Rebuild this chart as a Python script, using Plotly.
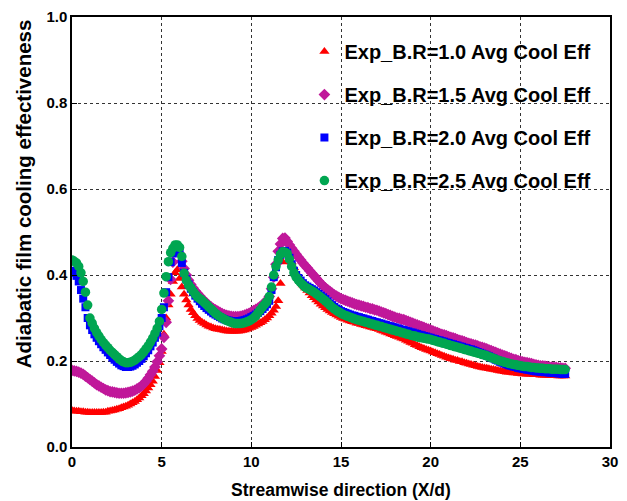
import plotly.graph_objects as go

# Streamwise positions X/d (shared by all series), 0.125 apart, one row per unit of X/d
x_pos = [
    0.0, 0.125, 0.25, 0.375, 0.5, 0.625, 0.75, 0.875,
    1.0, 1.125, 1.25, 1.375, 1.5, 1.625, 1.75, 1.875,
    2.0, 2.125, 2.25, 2.375, 2.5, 2.625, 2.75, 2.875,
    3.0, 3.125, 3.25, 3.375, 3.5, 3.625, 3.75, 3.875,
    4.0, 4.125, 4.25, 4.375, 4.5, 4.625, 4.75, 4.875,
    5.0, 5.125, 5.25, 5.375, 5.5, 5.625, 5.75, 5.875,
    6.0, 6.125, 6.25, 6.375, 6.5, 6.625, 6.75, 6.875,
    7.0, 7.125, 7.25, 7.375, 7.5, 7.625, 7.75, 7.875,
    8.0, 8.125, 8.25, 8.375, 8.5, 8.625, 8.75, 8.875,
    9.0, 9.125, 9.25, 9.375, 9.5, 9.625, 9.75, 9.875,
    10.0, 10.125, 10.25, 10.375, 10.5, 10.625, 10.75, 10.875,
    11.0, 11.125, 11.25, 11.375, 11.5, 11.625, 11.75, 11.875,
    12.0, 12.125, 12.25, 12.375, 12.5, 12.625, 12.75, 12.875,
    13.0, 13.125, 13.25, 13.375, 13.5, 13.625, 13.75, 13.875,
    14.0, 14.125, 14.25, 14.375, 14.5, 14.625, 14.75, 14.875,
    15.0, 15.125, 15.25, 15.375, 15.5, 15.625, 15.75, 15.875,
    16.0, 16.125, 16.25, 16.375, 16.5, 16.625, 16.75, 16.875,
    17.0, 17.125, 17.25, 17.375, 17.5, 17.625, 17.75, 17.875,
    18.0, 18.125, 18.25, 18.375, 18.5, 18.625, 18.75, 18.875,
    19.0, 19.125, 19.25, 19.375, 19.5, 19.625, 19.75, 19.875,
    20.0, 20.125, 20.25, 20.375, 20.5, 20.625, 20.75, 20.875,
    21.0, 21.125, 21.25, 21.375, 21.5, 21.625, 21.75, 21.875,
    22.0, 22.125, 22.25, 22.375, 22.5, 22.625, 22.75, 22.875,
    23.0, 23.125, 23.25, 23.375, 23.5, 23.625, 23.75, 23.875,
    24.0, 24.125, 24.25, 24.375, 24.5, 24.625, 24.75, 24.875,
    25.0, 25.125, 25.25, 25.375, 25.5, 25.625, 25.75, 25.875,
    26.0, 26.125, 26.25, 26.375, 26.5, 26.625, 26.75, 26.875,
    27.0, 27.125, 27.25, 27.375, 27.5,
]

br10 = [
    0.085, 0.084, 0.083, 0.083, 0.082, 0.082, 0.081, 0.081,
    0.080, 0.080, 0.080, 0.080, 0.080, 0.080, 0.081, 0.081,
    0.083, 0.084, 0.085, 0.086, 0.088, 0.089, 0.091, 0.093,
    0.095, 0.097, 0.100, 0.103, 0.106, 0.110, 0.114, 0.119,
    0.124, 0.130, 0.137, 0.145, 0.153, 0.164, 0.178, 0.196,
    0.222, 0.262, 0.300, 0.330, 0.355, 0.385, 0.405, 0.412,
    0.392, 0.372, 0.355, 0.342, 0.330, 0.320, 0.312, 0.305,
    0.299, 0.294, 0.290, 0.287, 0.284, 0.281, 0.279, 0.277,
    0.275, 0.274, 0.273, 0.272, 0.271, 0.270, 0.269, 0.269,
    0.269, 0.269, 0.269, 0.270, 0.271, 0.272, 0.274, 0.276,
    0.278, 0.280, 0.283, 0.286, 0.289, 0.292, 0.296, 0.300,
    0.305, 0.311, 0.318, 0.327, 0.340, 0.380, 0.430, 0.452,
    0.455, 0.445, 0.430, 0.417, 0.405, 0.395, 0.385, 0.377,
    0.370, 0.364, 0.358, 0.352, 0.347, 0.342, 0.337, 0.332,
    0.328, 0.324, 0.320, 0.316, 0.313, 0.310, 0.307, 0.304,
    0.301, 0.299, 0.297, 0.295, 0.293, 0.291, 0.290, 0.288,
    0.287, 0.285, 0.284, 0.282, 0.281, 0.279, 0.278, 0.276,
    0.275, 0.273, 0.271, 0.269, 0.267, 0.265, 0.263, 0.261,
    0.259, 0.257, 0.255, 0.253, 0.251, 0.248, 0.246, 0.243,
    0.241, 0.238, 0.236, 0.233, 0.231, 0.229, 0.227, 0.225,
    0.223, 0.221, 0.219, 0.217, 0.215, 0.213, 0.211, 0.209,
    0.207, 0.205, 0.204, 0.202, 0.201, 0.199, 0.198, 0.196,
    0.195, 0.193, 0.192, 0.190, 0.189, 0.187, 0.186, 0.185,
    0.184, 0.183, 0.182, 0.181, 0.180, 0.179, 0.178, 0.177,
    0.176, 0.175, 0.174, 0.174, 0.173, 0.172, 0.172, 0.171,
    0.171, 0.170, 0.170, 0.169, 0.169, 0.169, 0.168, 0.168,
    0.168, 0.167, 0.167, 0.167, 0.167, 0.166, 0.166, 0.166,
    0.166, 0.165, 0.165, 0.165, 0.165,
]

br15 = [
    0.178, 0.177, 0.176, 0.174, 0.172, 0.169, 0.165, 0.161,
    0.157, 0.153, 0.149, 0.145, 0.142, 0.139, 0.136, 0.133,
    0.131, 0.129, 0.128, 0.127, 0.126, 0.125, 0.125, 0.125,
    0.126, 0.127, 0.128, 0.130, 0.132, 0.135, 0.138, 0.142,
    0.147, 0.153, 0.160, 0.168, 0.176, 0.186, 0.198, 0.212,
    0.228, 0.255, 0.290, 0.340, 0.390, 0.430, 0.455, 0.462,
    0.450, 0.432, 0.415, 0.400, 0.388, 0.378, 0.370, 0.363,
    0.357, 0.351, 0.345, 0.340, 0.335, 0.330, 0.326, 0.322,
    0.319, 0.316, 0.313, 0.310, 0.308, 0.306, 0.305, 0.304,
    0.303, 0.303, 0.303, 0.304, 0.305, 0.307, 0.309, 0.311,
    0.314, 0.317, 0.320, 0.323, 0.327, 0.331, 0.336, 0.342,
    0.350, 0.368, 0.395, 0.425, 0.455, 0.472, 0.485, 0.486,
    0.478, 0.470, 0.462, 0.455, 0.448, 0.441, 0.435, 0.428,
    0.422, 0.416, 0.410, 0.404, 0.398, 0.392, 0.386, 0.380,
    0.375, 0.370, 0.366, 0.362, 0.358, 0.354, 0.351, 0.348,
    0.345, 0.343, 0.341, 0.339, 0.337, 0.335, 0.333, 0.331,
    0.330, 0.328, 0.327, 0.325, 0.324, 0.322, 0.321, 0.319,
    0.318, 0.316, 0.314, 0.312, 0.310, 0.308, 0.306, 0.304,
    0.302, 0.300, 0.299, 0.297, 0.296, 0.294, 0.292, 0.290,
    0.288, 0.286, 0.284, 0.282, 0.280, 0.278, 0.276, 0.274,
    0.272, 0.270, 0.268, 0.266, 0.264, 0.262, 0.261, 0.259,
    0.257, 0.255, 0.254, 0.252, 0.250, 0.248, 0.247, 0.245,
    0.243, 0.241, 0.240, 0.238, 0.237, 0.235, 0.233, 0.232,
    0.230, 0.228, 0.226, 0.224, 0.222, 0.220, 0.218, 0.216,
    0.214, 0.212, 0.210, 0.208, 0.206, 0.204, 0.203, 0.201,
    0.200, 0.198, 0.197, 0.196, 0.195, 0.194, 0.192, 0.191,
    0.190, 0.189, 0.189, 0.188, 0.187, 0.186, 0.186, 0.185,
    0.185, 0.184, 0.184, 0.183, 0.183,
]

br20 = [
    0.410, 0.405, 0.398, 0.385, 0.365, 0.345, 0.325, 0.300,
    0.283, 0.272, 0.262, 0.254, 0.246, 0.239, 0.232, 0.226,
    0.220, 0.214, 0.208, 0.203, 0.198, 0.194, 0.190, 0.188,
    0.186, 0.186, 0.187, 0.189, 0.192, 0.196, 0.200, 0.205,
    0.211, 0.218, 0.225, 0.234, 0.243, 0.254, 0.266, 0.281,
    0.300, 0.325, 0.360, 0.395, 0.430, 0.450, 0.462, 0.463,
    0.455, 0.428, 0.405, 0.390, 0.378, 0.368, 0.360, 0.352,
    0.345, 0.339, 0.333, 0.328, 0.323, 0.319, 0.315, 0.311,
    0.308, 0.305, 0.302, 0.299, 0.297, 0.295, 0.294, 0.293,
    0.292, 0.292, 0.292, 0.293, 0.294, 0.295, 0.297, 0.299,
    0.302, 0.305, 0.308, 0.312, 0.316, 0.321, 0.326, 0.332,
    0.340, 0.365, 0.395, 0.418, 0.435, 0.447, 0.455, 0.456,
    0.452, 0.440, 0.425, 0.410, 0.400, 0.393, 0.387, 0.381,
    0.376, 0.373, 0.370, 0.367, 0.364, 0.360, 0.356, 0.352,
    0.348, 0.344, 0.339, 0.334, 0.330, 0.326, 0.322, 0.319,
    0.316, 0.314, 0.312, 0.310, 0.308, 0.306, 0.305, 0.303,
    0.302, 0.300, 0.299, 0.297, 0.296, 0.294, 0.293, 0.291,
    0.290, 0.288, 0.287, 0.285, 0.284, 0.282, 0.281, 0.279,
    0.278, 0.276, 0.275, 0.273, 0.272, 0.270, 0.269, 0.267,
    0.266, 0.264, 0.263, 0.261, 0.260, 0.258, 0.257, 0.255,
    0.254, 0.252, 0.251, 0.249, 0.248, 0.246, 0.245, 0.243,
    0.242, 0.240, 0.239, 0.237, 0.236, 0.234, 0.233, 0.231,
    0.230, 0.228, 0.227, 0.225, 0.223, 0.221, 0.219, 0.217,
    0.215, 0.213, 0.211, 0.208, 0.206, 0.203, 0.201, 0.198,
    0.196, 0.194, 0.192, 0.190, 0.189, 0.187, 0.186, 0.184,
    0.183, 0.182, 0.181, 0.180, 0.179, 0.178, 0.177, 0.176,
    0.176, 0.175, 0.175, 0.174, 0.174, 0.173, 0.173, 0.172,
    0.172, 0.171, 0.171, 0.170, 0.170,
]

br25 = [
    0.435, 0.432, 0.428, 0.420, 0.405, 0.385, 0.360, 0.330,
    0.300, 0.288, 0.276, 0.266, 0.258, 0.250, 0.243, 0.237,
    0.231, 0.225, 0.220, 0.215, 0.210, 0.205, 0.201, 0.198,
    0.196, 0.196, 0.197, 0.199, 0.202, 0.206, 0.210, 0.215,
    0.221, 0.228, 0.235, 0.244, 0.253, 0.264, 0.276, 0.292,
    0.320, 0.358, 0.396, 0.431, 0.452, 0.462, 0.470, 0.470,
    0.464, 0.443, 0.404, 0.388, 0.377, 0.370, 0.362, 0.355,
    0.349, 0.345, 0.341, 0.336, 0.331, 0.326, 0.321, 0.316,
    0.311, 0.307, 0.303, 0.300, 0.297, 0.294, 0.292, 0.290,
    0.288, 0.287, 0.287, 0.287, 0.288, 0.289, 0.291, 0.293,
    0.296, 0.300, 0.305, 0.312, 0.319, 0.326, 0.332, 0.338,
    0.350, 0.372, 0.400, 0.420, 0.435, 0.448, 0.454, 0.453,
    0.450, 0.437, 0.420, 0.405, 0.395, 0.388, 0.382, 0.377,
    0.372, 0.369, 0.366, 0.363, 0.360, 0.356, 0.352, 0.348,
    0.344, 0.340, 0.335, 0.330, 0.325, 0.321, 0.317, 0.314,
    0.311, 0.308, 0.306, 0.304, 0.302, 0.300, 0.298, 0.296,
    0.295, 0.293, 0.292, 0.290, 0.289, 0.287, 0.286, 0.284,
    0.283, 0.281, 0.280, 0.278, 0.277, 0.275, 0.274, 0.272,
    0.271, 0.269, 0.268, 0.266, 0.265, 0.263, 0.262, 0.260,
    0.259, 0.258, 0.256, 0.255, 0.254, 0.253, 0.252, 0.251,
    0.250, 0.248, 0.247, 0.245, 0.244, 0.242, 0.241, 0.239,
    0.238, 0.236, 0.235, 0.233, 0.232, 0.230, 0.229, 0.227,
    0.226, 0.224, 0.223, 0.221, 0.220, 0.218, 0.217, 0.215,
    0.214, 0.212, 0.210, 0.208, 0.206, 0.204, 0.202, 0.200,
    0.199, 0.197, 0.196, 0.194, 0.193, 0.192, 0.191, 0.190,
    0.189, 0.188, 0.187, 0.187, 0.186, 0.185, 0.185, 0.184,
    0.184, 0.183, 0.183, 0.182, 0.182, 0.182, 0.181, 0.181,
    0.181, 0.181, 0.180, 0.180, 0.180,
]

series_names = ["Exp_B.R=1.0 Avg Cool Eff", "Exp_B.R=1.5 Avg Cool Eff",
                "Exp_B.R=2.0 Avg Cool Eff", "Exp_B.R=2.5 Avg Cool Eff"]
series_values = [br10, br15, br20, br25]
colors = ["#ff0000", "#c0189a", "#0000ff", "#00a651"]
symbols = ["triangle-up", "diamond", "square", "circle"]
sizes = [9, 9, 8, 9.5]

FONT = "Liberation Sans, Arial, sans-serif"

fig = go.Figure()
for name, vals, c, s, sz in zip(series_names, series_values, colors, symbols, sizes):
    fig.add_trace(go.Scatter(
        x=x_pos, y=vals, mode="markers", name=name, legendgroup=name,
        marker=dict(color=c, symbol=s, size=sz, line=dict(width=0)),
    ))

axis_common = dict(
    showline=True, linecolor="black", linewidth=1.5, mirror=True,
    ticks="inside", ticklen=5, tickcolor="black", tickwidth=1,
    showgrid=True, gridcolor="#333333", griddash="dot", gridwidth=1.2,
    zeroline=False,
    tickfont=dict(family=FONT, size=15, color="black", weight="bold"),
)

fig.update_layout(
    width=627, height=501,
    margin=dict(l=72, r=9, t=17, b=54),
    paper_bgcolor="white", plot_bgcolor="white",
    font=dict(family=FONT, color="black"),
    xaxis=dict(range=[0, 30], dtick=5, tick0=0, automargin="left+right",
               title=dict(text="Streamwise direction (X/d)", standoff=15,
                          font=dict(family=FONT, size=17.5, color="black", weight="bold")),
               **axis_common),
    yaxis=dict(range=[0, 1], dtick=0.2, tick0=0, tickformat=".1f", automargin=False,
               **axis_common),
    legend=dict(x=0.432, y=0.965, xanchor="left", yanchor="top",
                bgcolor="rgba(0,0,0,0)", borderwidth=0,
                tracegroupgap=14, itemsizing="trace",
                font=dict(family=FONT, size=20, color="black", weight="bold")),
    annotations=[dict(
        text="Adiabatic film cooling effectiveness", textangle=-90,
        xref="paper", yref="paper", x=-0.091, y=0.588,
        xanchor="center", yanchor="middle", showarrow=False,
        font=dict(family=FONT, size=20.5, color="black", weight="bold"),
    )],
)

fig.write_html("out.html", config={"displayModeBar": False},
               post_script="document.body.style.margin='0';")
